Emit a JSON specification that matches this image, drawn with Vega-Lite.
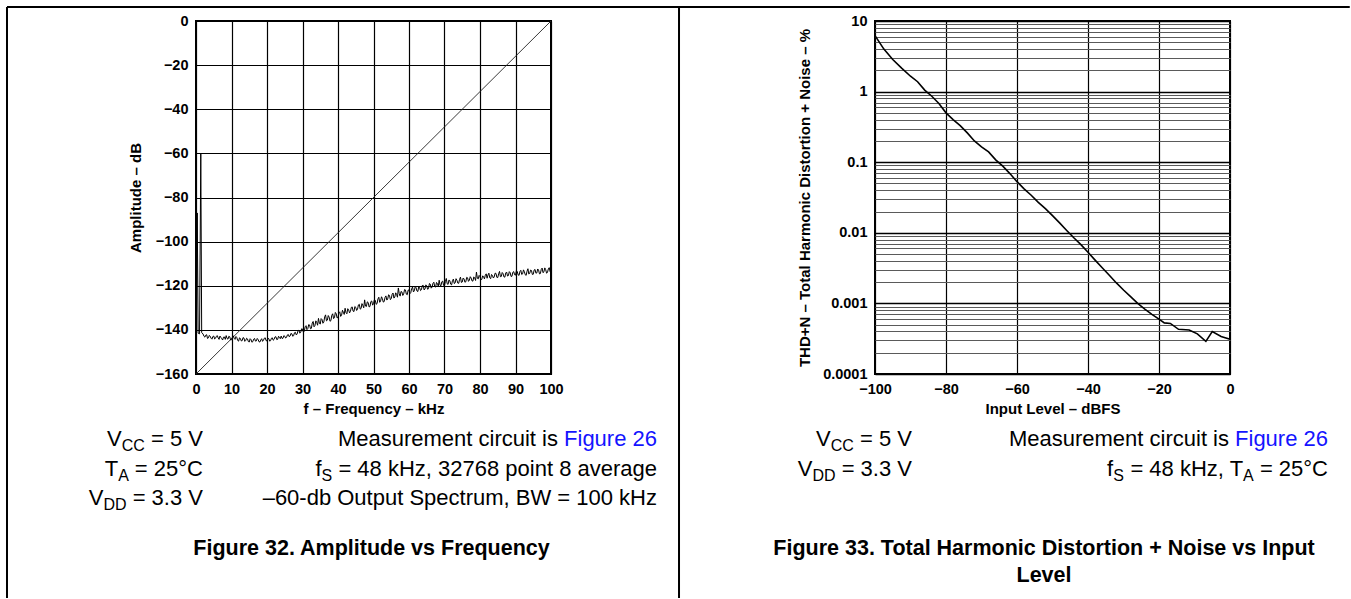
{
  "$schema": "https://vega.github.io/schema/vega-lite/v6.json",
  "background": "white",
  "autosize": {"type": "pad"},
  "padding": {"left": 4, "top": 4, "right": 0, "bottom": 0},
  "bounds": "flush",
  "spacing": 324,
  "config": {
    "font": "Liberation Sans",
    "view": {"stroke": "black", "strokeWidth": 2},
    "axis": {
      "labelFont": "Liberation Sans", "labelFontSize": 14.5, "labelFontWeight": "bold", "labelColor": "black",
      "titleFont": "Liberation Sans", "titleFontSize": 15, "titleFontWeight": "bold", "titleColor": "black",
      "ticks": false, "tickSize": 0, "domain": false, "grid": true, "gridColor": "black", "gridWidth": 1.2, "gridOpacity": 1,
      "labelPadding": 8, "labelOverlap": false, "labelFlush": false
    },
    "text": {"font": "Liberation Sans"}
  },
  "hconcat": [
    {
      "width": 355,
      "height": 353,
      "encoding": {
        "x": {"field": "x", "type": "quantitative", "scale": {"domain": [0, 100], "nice": false, "zero": false},
              "axis": {"values": [0, 10, 20, 30, 40, 50, 60, 70, 80, 90, 100], "title": "f – Frequency – kHz", "titlePadding": 6}},
        "y": {"field": "y", "type": "quantitative", "scale": {"domain": [-160, 0], "nice": false, "zero": false},
              "axis": {"values": [-160, -140, -120, -100, -80, -60, -40, -20, 0], "title": "Amplitude – dB", "titlePadding": 12}}
      },
      "layer": [
        {
          "data": {"values": [
            {"x": -53.24, "y": 6.35, "x2": 325, "y2": 6.35},
            {"x": -53.24, "y": 6.35, "x2": -53.24, "y2": -261.5},
            {"x": 136.06, "y": 6.35, "x2": 136.06, "y2": -261.5}
          ]},
          "mark": {"type": "rule", "color": "black", "strokeWidth": 2, "clip": false},
          "encoding": {"x2": {"field": "x2"}, "y2": {"field": "y2"}}
        },
        {
          "data": {"values": [{"x": 0, "y": -160}, {"x": 100, "y": 0}]},
          "mark": {"type": "line", "color": "#222222", "strokeWidth": 0.9},
          "encoding": {}
        },
        {
          "data": {"values": [
            {"x":0.1,"y":-141.5},{"x":0.35,"y":-87},{"x":0.6,"y":-141.5},{"x":1.0,"y":-141.8},{"x":1.35,"y":-60},{"x":1.6,"y":-141.2},
            {"x":2.0,"y":-141.9},{"x":2.25,"y":-142.9},{"x":2.5,"y":-143.3},{"x":2.75,"y":-142.4},{"x":3.0,"y":-142.2},{"x":3.25,"y":-143.9},
            {"x":3.5,"y":-143.6},{"x":3.75,"y":-142.5},{"x":4.0,"y":-142.9},{"x":4.25,"y":-143.8},{"x":4.5,"y":-144.2},{"x":4.75,"y":-143.0},
            {"x":5.0,"y":-142.8},{"x":5.25,"y":-144.1},{"x":5.5,"y":-143.8},{"x":5.75,"y":-142.9},{"x":6.0,"y":-142.6},{"x":6.25,"y":-143.7},
            {"x":6.5,"y":-144.3},{"x":6.75,"y":-142.8},{"x":7.0,"y":-143.4},{"x":7.25,"y":-144.0},{"x":7.5,"y":-144.6},{"x":7.75,"y":-143.3},
            {"x":8.0,"y":-143.2},{"x":8.25,"y":-144.3},{"x":8.5,"y":-142.6},{"x":8.75,"y":-143.9},{"x":9.0,"y":-144.2},{"x":9.25,"y":-142.9},
            {"x":9.5,"y":-143.1},{"x":9.75,"y":-144.6},{"x":10.0,"y":-144.5},{"x":10.25,"y":-143.4},{"x":10.5,"y":-142.7},{"x":10.75,"y":-143.8},
            {"x":11.0,"y":-144.3},{"x":11.25,"y":-143.0},{"x":11.5,"y":-143.5},{"x":11.75,"y":-144.8},{"x":12.0,"y":-145.1},{"x":12.25,"y":-143.6},
            {"x":12.5,"y":-143.9},{"x":12.75,"y":-145.0},{"x":13.0,"y":-144.9},{"x":13.25,"y":-143.5},{"x":13.5,"y":-143.7},{"x":13.75,"y":-145.2},
            {"x":14.0,"y":-144.8},{"x":14.25,"y":-143.8},{"x":14.5,"y":-144.1},{"x":14.75,"y":-145.3},{"x":15.0,"y":-145.5},{"x":15.25,"y":-144.0},
            {"x":15.5,"y":-144.4},{"x":15.75,"y":-145.6},{"x":16.0,"y":-145.3},{"x":16.25,"y":-144.2},{"x":16.5,"y":-143.9},{"x":16.75,"y":-145.1},
            {"x":17.0,"y":-145.0},{"x":17.25,"y":-143.9},{"x":17.5,"y":-144.4},{"x":17.75,"y":-145.4},{"x":18.0,"y":-145.5},{"x":18.25,"y":-144.6},
            {"x":18.5,"y":-144.0},{"x":18.75,"y":-145.2},{"x":19.0,"y":-144.7},{"x":19.25,"y":-143.8},{"x":19.5,"y":-143.6},{"x":19.75,"y":-144.9},
            {"x":20.0,"y":-145.0},{"x":20.25,"y":-143.7},{"x":20.5,"y":-144.0},{"x":20.75,"y":-145.1},{"x":21.0,"y":-144.9},{"x":21.25,"y":-143.8},
            {"x":21.5,"y":-143.6},{"x":21.75,"y":-144.7},{"x":22.0,"y":-144.3},{"x":22.25,"y":-143.2},{"x":22.5,"y":-143.1},{"x":22.75,"y":-144.4},
            {"x":23.0,"y":-144.3},{"x":23.25,"y":-142.9},{"x":23.5,"y":-143.4},{"x":23.75,"y":-144.0},{"x":24.0,"y":-142.8},{"x":24.25,"y":-143.9},
            {"x":24.5,"y":-143.8},{"x":24.75,"y":-142.6},{"x":25.0,"y":-142.9},{"x":25.25,"y":-143.7},{"x":25.5,"y":-143.4},{"x":25.75,"y":-142.3},
            {"x":26.0,"y":-142.1},{"x":26.25,"y":-143.1},{"x":26.5,"y":-142.8},{"x":26.75,"y":-141.6},{"x":27.0,"y":-141.8},{"x":27.25,"y":-142.9},
            {"x":27.5,"y":-142.6},{"x":27.75,"y":-141.3},{"x":28.0,"y":-141.1},{"x":28.25,"y":-142.3},{"x":28.5,"y":-141.8},{"x":28.75,"y":-140.4},
            {"x":29.0,"y":-140.1},{"x":29.25,"y":-141.5},{"x":29.5,"y":-141.1},{"x":29.75,"y":-139.5},{"x":30.0,"y":-139.6},{"x":30.25,"y":-141.0},
            {"x":30.5,"y":-140.6},{"x":30.75,"y":-138.6},{"x":31.0,"y":-138.1},{"x":31.25,"y":-139.9},{"x":31.5,"y":-139.4},{"x":31.75,"y":-137.6},
            {"x":32.0,"y":-137.8},{"x":32.25,"y":-139.5},{"x":32.5,"y":-139.3},{"x":32.75,"y":-136.9},{"x":33.0,"y":-136.2},{"x":33.25,"y":-138.6},
            {"x":33.5,"y":-138.1},{"x":33.75,"y":-135.9},{"x":34.0,"y":-136.6},{"x":34.25,"y":-137.9},{"x":34.5,"y":-134.8},{"x":34.75,"y":-136.9},
            {"x":35.0,"y":-137.4},{"x":35.25,"y":-134.9},{"x":35.5,"y":-135.3},{"x":35.75,"y":-137.0},{"x":36.0,"y":-136.5},{"x":36.25,"y":-134.1},
            {"x":36.5,"y":-133.2},{"x":36.75,"y":-135.9},{"x":37.0,"y":-135.6},{"x":37.25,"y":-133.5},{"x":37.5,"y":-134.2},{"x":37.75,"y":-136.1},
            {"x":38.0,"y":-135.8},{"x":38.25,"y":-133.4},{"x":38.5,"y":-132.7},{"x":38.75,"y":-134.9},{"x":39.0,"y":-134.5},{"x":39.25,"y":-132.1},
            {"x":39.5,"y":-132.7},{"x":39.75,"y":-134.6},{"x":40.0,"y":-134.3},{"x":40.25,"y":-132.3},{"x":40.5,"y":-131.8},{"x":40.75,"y":-133.9},
            {"x":41.0,"y":-133.4},{"x":41.25,"y":-131.1},{"x":41.5,"y":-132.0},{"x":41.75,"y":-133.0},{"x":42.0,"y":-130.2},{"x":42.25,"y":-132.2},
            {"x":42.5,"y":-132.7},{"x":42.75,"y":-130.4},{"x":43.0,"y":-130.9},{"x":43.25,"y":-132.3},{"x":43.5,"y":-131.6},{"x":43.75,"y":-129.8},
            {"x":44.0,"y":-129.6},{"x":44.25,"y":-131.5},{"x":44.5,"y":-131.7},{"x":44.75,"y":-129.4},{"x":45.0,"y":-129.8},{"x":45.25,"y":-131.2},
            {"x":45.5,"y":-130.6},{"x":45.75,"y":-128.7},{"x":46.0,"y":-128.4},{"x":46.25,"y":-130.6},{"x":46.5,"y":-130.3},{"x":46.75,"y":-128.1},
            {"x":47.0,"y":-129.0},{"x":47.25,"y":-130.0},{"x":47.5,"y":-126.4},{"x":47.75,"y":-129.2},{"x":48.0,"y":-129.4},{"x":48.25,"y":-127.3},
            {"x":48.5,"y":-127.6},{"x":48.75,"y":-129.6},{"x":49.0,"y":-129.4},{"x":49.25,"y":-127.2},{"x":49.5,"y":-126.9},{"x":49.75,"y":-128.8},
            {"x":50.0,"y":-128.1},{"x":50.25,"y":-126.3},{"x":50.5,"y":-126.6},{"x":50.75,"y":-128.4},{"x":51.0,"y":-128.1},{"x":51.25,"y":-126.0},
            {"x":51.5,"y":-125.2},{"x":51.75,"y":-127.5},{"x":52.0,"y":-126.9},{"x":52.25,"y":-125.0},{"x":52.5,"y":-125.8},{"x":52.75,"y":-127.4},
            {"x":53.0,"y":-127.2},{"x":53.25,"y":-125.3},{"x":53.5,"y":-124.6},{"x":53.75,"y":-126.5},{"x":54.0,"y":-126.0},{"x":54.25,"y":-124.1},
            {"x":54.5,"y":-124.4},{"x":54.75,"y":-126.3},{"x":55.0,"y":-125.8},{"x":55.25,"y":-123.9},{"x":55.5,"y":-123.3},{"x":55.75,"y":-125.6},
            {"x":56.0,"y":-125.1},{"x":56.25,"y":-123.2},{"x":56.5,"y":-123.9},{"x":56.75,"y":-125.2},{"x":57.0,"y":-121.0},{"x":57.25,"y":-123.6},
            {"x":57.5,"y":-124.7},{"x":57.75,"y":-122.6},{"x":58.0,"y":-122.8},{"x":58.25,"y":-124.4},{"x":58.5,"y":-123.7},{"x":58.75,"y":-121.7},
            {"x":59.0,"y":-121.9},{"x":59.25,"y":-123.8},{"x":59.5,"y":-124.1},{"x":59.75,"y":-122.0},{"x":60.0,"y":-121.9},{"x":60.25,"y":-123.6},
            {"x":60.5,"y":-123.1},{"x":60.75,"y":-121.3},{"x":61.0,"y":-120.6},{"x":61.25,"y":-122.8},{"x":61.5,"y":-122.3},{"x":61.75,"y":-120.4},
            {"x":62.0,"y":-120.9},{"x":62.25,"y":-122.4},{"x":62.5,"y":-122.6},{"x":62.75,"y":-120.3},{"x":63.0,"y":-120.9},{"x":63.25,"y":-122.2},
            {"x":63.5,"y":-121.8},{"x":63.75,"y":-119.9},{"x":64.0,"y":-119.8},{"x":64.25,"y":-121.9},{"x":64.5,"y":-121.5},{"x":64.75,"y":-119.6},
            {"x":65.0,"y":-120.2},{"x":65.25,"y":-121.6},{"x":65.5,"y":-121.3},{"x":65.75,"y":-119.0},{"x":66.0,"y":-119.3},{"x":66.25,"y":-121.1},
            {"x":66.5,"y":-120.6},{"x":66.75,"y":-118.9},{"x":67.0,"y":-118.4},{"x":67.25,"y":-120.4},{"x":67.5,"y":-120.6},{"x":67.75,"y":-118.5},
            {"x":68.0,"y":-119.0},{"x":68.25,"y":-120.2},{"x":68.5,"y":-117.5},{"x":68.75,"y":-119.8},{"x":69.0,"y":-120.0},{"x":69.25,"y":-118.2},
            {"x":69.5,"y":-117.9},{"x":69.75,"y":-119.9},{"x":70.0,"y":-120.0},{"x":70.25,"y":-118.1},{"x":70.5,"y":-116.7},{"x":70.75,"y":-119.1},
            {"x":71.0,"y":-119.4},{"x":71.25,"y":-117.4},{"x":71.5,"y":-117.7},{"x":71.75,"y":-119.3},{"x":72.0,"y":-119.6},{"x":72.25,"y":-117.6},
            {"x":72.5,"y":-117.0},{"x":72.75,"y":-119.0},{"x":73.0,"y":-118.7},{"x":73.25,"y":-116.8},{"x":73.5,"y":-117.5},{"x":73.75,"y":-118.8},
            {"x":74.0,"y":-118.9},{"x":74.25,"y":-117.1},{"x":74.5,"y":-116.1},{"x":74.75,"y":-118.5},{"x":75.0,"y":-118.3},{"x":75.25,"y":-116.5},
            {"x":75.5,"y":-116.9},{"x":75.75,"y":-118.4},{"x":76.0,"y":-118.2},{"x":76.25,"y":-116.2},{"x":76.5,"y":-116.4},{"x":76.75,"y":-118.0},
            {"x":77.0,"y":-117.5},{"x":77.25,"y":-115.9},{"x":77.5,"y":-116.5},{"x":77.75,"y":-117.8},{"x":78.0,"y":-117.9},{"x":78.25,"y":-116.0},
            {"x":78.5,"y":-116.4},{"x":78.75,"y":-117.6},{"x":79.0,"y":-113.8},{"x":79.25,"y":-116.6},{"x":79.5,"y":-116.9},{"x":79.75,"y":-115.3},
            {"x":80.0,"y":-115.9},{"x":80.25,"y":-117.3},{"x":80.5,"y":-117.1},{"x":80.75,"y":-115.5},{"x":81.0,"y":-115.9},{"x":81.25,"y":-116.9},
            {"x":81.5,"y":-115.2},{"x":81.75,"y":-114.6},{"x":82.0,"y":-116.6},{"x":82.25,"y":-115.1},{"x":82.5,"y":-114.3},{"x":82.75,"y":-116.4},
            {"x":83.0,"y":-116.8},{"x":83.25,"y":-114.9},{"x":83.5,"y":-115.3},{"x":83.75,"y":-116.5},{"x":84.0,"y":-116.0},{"x":84.25,"y":-114.3},
            {"x":84.5,"y":-114.4},{"x":84.75,"y":-116.2},{"x":85.0,"y":-116.3},{"x":85.25,"y":-114.6},{"x":85.5,"y":-113.5},{"x":85.75,"y":-115.9},
            {"x":86.0,"y":-115.8},{"x":86.25,"y":-114.0},{"x":86.5,"y":-114.5},{"x":86.75,"y":-116.0},{"x":87.0,"y":-116.1},{"x":87.25,"y":-114.2},
            {"x":87.5,"y":-113.8},{"x":87.75,"y":-115.6},{"x":88.0,"y":-115.4},{"x":88.25,"y":-113.6},{"x":88.5,"y":-114.1},{"x":88.75,"y":-115.8},
            {"x":89.0,"y":-115.7},{"x":89.25,"y":-113.9},{"x":89.5,"y":-113.6},{"x":89.75,"y":-115.0},{"x":90.0,"y":-115.2},{"x":90.25,"y":-113.2},
            {"x":90.5,"y":-113.6},{"x":90.75,"y":-115.1},{"x":91.0,"y":-115.3},{"x":91.25,"y":-113.5},{"x":91.5,"y":-113.0},{"x":91.75,"y":-114.9},
            {"x":92.0,"y":-114.6},{"x":92.25,"y":-112.8},{"x":92.5,"y":-113.7},{"x":92.75,"y":-115.0},{"x":93.0,"y":-115.3},{"x":93.25,"y":-113.4},
            {"x":93.5,"y":-112.3},{"x":93.75,"y":-114.7},{"x":94.0,"y":-114.4},{"x":94.25,"y":-112.9},{"x":94.5,"y":-113.1},{"x":94.75,"y":-114.9},
            {"x":95.0,"y":-114.8},{"x":95.25,"y":-112.9},{"x":95.5,"y":-112.6},{"x":95.75,"y":-114.3},{"x":96.0,"y":-114.2},{"x":96.25,"y":-112.4},
            {"x":96.5,"y":-112.9},{"x":96.75,"y":-114.6},{"x":97.0,"y":-114.5},{"x":97.25,"y":-112.6},{"x":97.5,"y":-112.0},{"x":97.75,"y":-114.1},
            {"x":98.0,"y":-113.7},{"x":98.25,"y":-111.9},{"x":98.5,"y":-112.7},{"x":98.75,"y":-114.3},{"x":99.0,"y":-114.0},{"x":99.25,"y":-112.4},
            {"x":99.5,"y":-111.8},{"x":99.75,"y":-113.6},{"x":100.0,"y":-112.8}
          ]},
          "mark": {"type": "line", "color": "black", "strokeWidth": 1.0},
          "encoding": {}
        },
        {
          "data": {"values": [
            {"x": 1.97, "y": -192.63, "t": "= 5 V"},
            {"x": -20.90, "y": -192.63, "t": "V"},
            {"x": 1.97, "y": -206.01, "t": "= 25°C"},
            {"x": -21.94, "y": -206.01, "t": "T"},
            {"x": 1.97, "y": -219.38, "t": "= 3.3 V"},
            {"x": -26.07, "y": -219.38, "t": "V"},
            {"x": 101.97, "y": -192.63, "t": "Measurement circuit is"},
            {"x": 129.86, "y": -206.01, "t": "= 48 kHz, 32768 point 8 average"},
            {"x": 35.38, "y": -206.01, "t": "f"},
            {"x": 129.86, "y": -219.38, "t": "–60-db Output Spectrum, BW = 100 kHz"}
          ]},
          "mark": {"type": "text", "align": "right", "baseline": "alphabetic", "fontSize": 22, "color": "black", "clip": false},
          "encoding": {"text": {"field": "t"}}
        },
        {
          "data": {"values": [
            {"x": -14.39, "y": -192.63, "t": "CC"},
            {"x": -18.93, "y": -206.01, "t": "A"},
            {"x": -19.56, "y": -219.38, "t": "DD"},
            {"x": 38.39, "y": -206.01, "t": "S"}
          ]},
          "mark": {"type": "text", "align": "right", "baseline": "alphabetic", "fontSize": 16, "dy": 5, "color": "black", "clip": false},
          "encoding": {"text": {"field": "t"}}
        },
        {
          "data": {"values": [{"x": 129.86, "y": -192.63, "t": "Figure 26"}]},
          "mark": {"type": "text", "align": "right", "baseline": "alphabetic", "fontSize": 22, "color": "#1414ff", "clip": false},
          "encoding": {"text": {"field": "t"}}
        },
        {
          "data": {"values": [{"x": 49.44, "y": -242.04, "t": "Figure 32. Amplitude vs Frequency"}]},
          "mark": {"type": "text", "align": "center", "baseline": "alphabetic", "fontSize": 21.5, "fontWeight": "bold", "color": "black", "clip": false},
          "encoding": {"text": {"field": "t"}}
        }
      ]
    },
    {
      "width": 355,
      "height": 353,
      "encoding": {
        "x": {"field": "x", "type": "quantitative", "scale": {"domain": [-100, 0], "nice": false, "zero": false},
              "axis": {"values": [-100, -80, -60, -40, -20, 0], "title": "Input Level – dBFS", "titlePadding": 6}},
        "y": {"field": "y", "type": "quantitative", "scale": {"type": "log", "domain": [0.0001, 10], "nice": false, "zero": false},
              "axis": {
                "values": [0.0001,0.0002,0.0003,0.0004,0.0005,0.0006,0.0007,0.0008,0.0009,
                           0.001,0.002,0.003,0.004,0.005,0.006,0.007,0.008,0.009,
                           0.01,0.02,0.03,0.04,0.05,0.06,0.07,0.08,0.09,
                           0.1,0.2,0.3,0.4,0.5,0.6,0.7,0.8,0.9,
                           1,2,3,4,5,6,7,8,9,10],
                "labelExpr": "indexof([10,1,0.1,0.01,0.001,0.0001], datum.value) >= 0 ? format(datum.value, '~g') : ''",
                "gridColor": {"condition": {"test": "indexof([10,1,0.1,0.01,0.001,0.0001], datum.value) >= 0", "value": "black"}, "value": "#5a5a5a"},
                "gridWidth": {"condition": {"test": "indexof([10,1,0.1,0.01,0.001,0.0001], datum.value) >= 0", "value": 1.3}, "value": 1},
                "title": "THD+N – Total Harmonic Distortion + Noise – %",
                "titlePadding": 10
              }}
      },
      "layer": [
        {
          "data": {"values": [
            {"x":-100,"y":6.2},{"x":-97.5,"y":4.0},{"x":-95,"y":2.85},{"x":-92.5,"y":2.15},{"x":-90,"y":1.65},{"x":-88,"y":1.38},
            {"x":-86,"y":1.05},{"x":-84,"y":0.86},{"x":-82,"y":0.68},{"x":-80,"y":0.50},{"x":-78,"y":0.40},{"x":-76,"y":0.33},
            {"x":-74,"y":0.26},{"x":-72,"y":0.20},{"x":-70,"y":0.165},{"x":-68,"y":0.14},{"x":-66,"y":0.108},{"x":-64,"y":0.088},
            {"x":-62,"y":0.069},{"x":-60,"y":0.053},{"x":-58,"y":0.042},{"x":-56,"y":0.034},{"x":-54,"y":0.027},{"x":-52,"y":0.022},
            {"x":-50,"y":0.0175},{"x":-48,"y":0.0138},{"x":-46,"y":0.0108},{"x":-44,"y":0.0085},{"x":-42,"y":0.0068},{"x":-40,"y":0.0053},
            {"x":-38,"y":0.0041},{"x":-36,"y":0.0032},{"x":-34,"y":0.0025},{"x":-32,"y":0.00195},{"x":-30,"y":0.00155},{"x":-28,"y":0.00125},
            {"x":-26,"y":0.00100},{"x":-24,"y":0.00083},{"x":-22,"y":0.00070},{"x":-20,"y":0.00060},{"x":-18.5,"y":0.00053},{"x":-16.8,"y":0.00052},
            {"x":-14.5,"y":0.00043},{"x":-11.5,"y":0.00042},{"x":-9.2,"y":0.00037},{"x":-6.8,"y":0.00029},{"x":-5.0,"y":0.00040},{"x":-2.5,"y":0.00034},
            {"x":0,"y":0.00031}
          ]},
          "mark": {"type": "line", "color": "black", "strokeWidth": 1.6},
          "encoding": {}
        },
        {
          "data": {"values": [
            {"x": -89.58, "y": 9.55e-6, "t": "= 5 V"},
            {"x": -112.45, "y": 9.55e-6, "t": "V"},
            {"x": -89.58, "y": 3.65e-6, "t": "= 3.3 V"},
            {"x": -117.62, "y": 3.65e-6, "t": "V"},
            {"x": -0.28, "y": 9.55e-6, "t": "Measurement circuit is"},
            {"x": 27.61, "y": 3.65e-6, "t": "= 25°C"},
            {"x": 3.69, "y": 3.65e-6, "t": "= 48 kHz, T"},
            {"x": -32.90, "y": 3.65e-6, "t": "f"}
          ]},
          "mark": {"type": "text", "align": "right", "baseline": "alphabetic", "fontSize": 22, "color": "black", "clip": false},
          "encoding": {"text": {"field": "t"}}
        },
        {
          "data": {"values": [
            {"x": -105.94, "y": 9.55e-6, "t": "CC"},
            {"x": -111.11, "y": 3.65e-6, "t": "DD"},
            {"x": 6.70, "y": 3.65e-6, "t": "A"},
            {"x": -29.89, "y": 3.65e-6, "t": "S"}
          ]},
          "mark": {"type": "text", "align": "right", "baseline": "alphabetic", "fontSize": 16, "dy": 5, "color": "black", "clip": false},
          "encoding": {"text": {"field": "t"}}
        },
        {
          "data": {"values": [{"x": 27.61, "y": 9.55e-6, "t": "Figure 26"}]},
          "mark": {"type": "text", "align": "right", "baseline": "alphabetic", "fontSize": 22, "color": "#1414ff", "clip": false},
          "encoding": {"text": {"field": "t"}}
        },
        {
          "data": {"values": [
            {"x": -52.39, "y": 2.73e-7, "t": "Figure 33. Total Harmonic Distortion + Noise vs Input"},
            {"x": -52.39, "y": 1.13e-7, "t": "Level"}
          ]},
          "mark": {"type": "text", "align": "center", "baseline": "alphabetic", "fontSize": 21.5, "fontWeight": "bold", "color": "black", "clip": false},
          "encoding": {"text": {"field": "t"}}
        }
      ]
    }
  ]
}
